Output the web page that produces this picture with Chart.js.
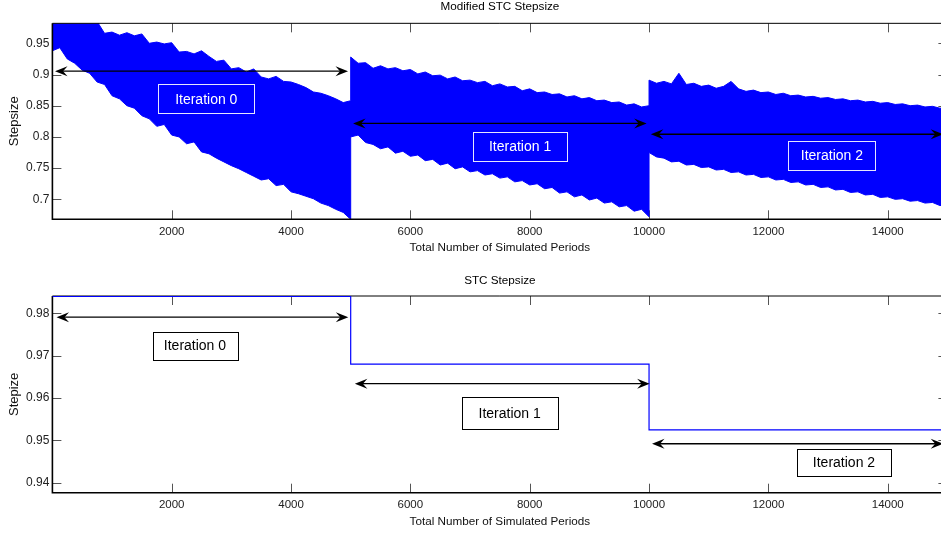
<!DOCTYPE html>
<html>
<head>
<meta charset="utf-8">
<title>STC Stepsize</title>
<script src="https://cdn.jsdelivr.net/npm/chart.js@4.4.0/dist/chart.umd.min.js"></script>
<style>
  html, body { margin: 0; padding: 0; background: #fff; overflow: hidden; width: 941px; height: 535px; }
  .panel { position: absolute; left: 0; }
  #topPanel { top: 0; }
  #bottomPanel { top: 265px; }
</style>
</head>
<body>
<div class="panel" id="topPanel"><canvas id="modifiedChart" width="980" height="265"></canvas></div>
<div class="panel" id="bottomPanel"><canvas id="stcChart" width="980" height="270"></canvas></div>
<script>
// Modified STC stepsize: the noisy band is read as its upper / lower edge,
// one sample every 125 periods, one array per iteration
const iterationStarts = [0, 5000, 10000];
const sampleStep = 125;

const upperIter0 = [
  0.985, 0.985, 0.985, 0.985, 0.985, 0.985, 0.985, 0.966, 0.968, 0.963, 0.967, 0.962, 0.965, 0.950, 0.952, 0.949, 0.951,
  0.936, 0.937, 0.933, 0.938, 0.929, 0.921, 0.923, 0.909, 0.911, 0.904, 0.909, 0.896, 0.893, 0.897, 0.889, 0.888,
  0.884, 0.879, 0.872, 0.870, 0.866, 0.861, 0.855, 0.858
];
const lowerIter0 = [
  0.938, 0.943, 0.925, 0.918, 0.907, 0.902, 0.888, 0.884, 0.866, 0.861, 0.850, 0.846, 0.834, 0.829, 0.817, 0.820, 0.803,
  0.800, 0.789, 0.792, 0.776, 0.773, 0.766, 0.760, 0.754, 0.749, 0.743, 0.737, 0.731, 0.733, 0.722, 0.724, 0.712,
  0.709, 0.705, 0.701, 0.694, 0.690, 0.684, 0.679, 0.668
];
const upperIter1 = [
  0.928, 0.918, 0.919, 0.910, 0.914, 0.909, 0.911, 0.906, 0.908, 0.901, 0.904, 0.898, 0.899, 0.893, 0.896, 0.890, 0.891,
  0.887, 0.889, 0.882, 0.885, 0.880, 0.881, 0.874, 0.877, 0.871, 0.872, 0.868, 0.869, 0.864, 0.866, 0.861, 0.863,
  0.858, 0.859, 0.855, 0.856, 0.851, 0.853, 0.848, 0.850
];
const lowerIter1 = [
  0.800, 0.803, 0.791, 0.788, 0.781, 0.784, 0.774, 0.777, 0.769, 0.771, 0.762, 0.764, 0.755, 0.758, 0.749, 0.752, 0.744,
  0.746, 0.739, 0.741, 0.734, 0.736, 0.728, 0.730, 0.723, 0.725, 0.717, 0.719, 0.710, 0.712, 0.704, 0.707, 0.699,
  0.702, 0.694, 0.696, 0.688, 0.690, 0.681, 0.684, 0.672
];
const upperIter2 = [
  0.891, 0.886, 0.889, 0.885, 0.902, 0.884, 0.886, 0.881, 0.883, 0.878, 0.881, 0.889, 0.877, 0.873, 0.875, 0.871, 0.872,
  0.868, 0.870, 0.866, 0.867, 0.864, 0.865, 0.862, 0.863, 0.860, 0.861, 0.858, 0.859, 0.856, 0.857, 0.854, 0.855,
  0.852, 0.853, 0.850, 0.851, 0.848, 0.849, 0.846, 0.847
];
const lowerIter2 = [
  0.775, 0.768, 0.766, 0.760, 0.761, 0.755, 0.756, 0.751, 0.752, 0.747, 0.748, 0.743, 0.744, 0.739, 0.740, 0.735, 0.736,
  0.731, 0.732, 0.727, 0.728, 0.723, 0.724, 0.719, 0.720, 0.715, 0.716, 0.711, 0.712, 0.707, 0.708, 0.703, 0.704,
  0.700, 0.701, 0.697, 0.698, 0.694, 0.695, 0.690, 0.691
];

// STC stepsize: one constant value per iteration
const stcPeriods = [1, 5000, 10000, 15000];
const stcStepsize = [0.984, 0.968, 0.9525, 0.9525];

// tick labels
const periodTicks = [2000, 4000, 6000, 8000, 10000, 12000, 14000];
const modifiedTicks = [0.7, 0.75, 0.8, 0.85, 0.9, 0.95];
const stcTicks = [0.94, 0.95, 0.96, 0.97, 0.98];

// annotations: [from, to, y] arrows and [x0, x1, yTop, yBottom, text] boxes, in data units
const modifiedArrows = [[45, 4955, 0.9054], [5040, 9960, 0.8216], [10030, 14930, 0.8043]];
const modifiedBoxes = [
  [1775, 3384, 0.8843, 0.8383, 'Iteration 0'],
  [7054, 8624, 0.8083, 0.7614, 'Iteration 1'],
  [12333, 13797, 0.7939, 0.7474, 'Iteration 2']
];
const stcArrows = [[70, 4960, 0.9791], [5070, 10010, 0.9634], [10050, 14930, 0.9492]];
const stcBoxes = [
  [1681, 3099, 0.97566, 0.96914, 'Iteration 0'],
  [6859, 8468, 0.96031, 0.95268, 'Iteration 1'],
  [12479, 14054, 0.94803, 0.94165, 'Iteration 2']
];

const FONT = '"Liberation Sans", Arial, sans-serif';

// join the three iterations into one edge, each sample placed on its period
function edge(parts) {
  const pts = [];
  parts.forEach((vals, k) => {
    vals.forEach((v, i) => pts.push({ x: iterationStarts[k] + i * sampleStep, y: v }));
  });
  return pts;
}

function arrowHead(ctx, x, y, dir) {
  ctx.beginPath();
  ctx.moveTo(x, y);
  ctx.lineTo(x - dir * 12.5, y - 5);
  ctx.lineTo(x - dir * 8, y);
  ctx.lineTo(x - dir * 12.5, y + 5);
  ctx.closePath();
  ctx.fill();
}

// inward ticks on all four sides, box frame, arrows and text boxes
function makeDecor(cfg) {
  function frame(chart) {
    const {ctx, chartArea: a} = chart;
    ctx.save();
    ctx.strokeStyle = '#000';
    ctx.lineWidth = 1;
    ctx.beginPath();
    ctx.moveTo(a.left, a.top); ctx.lineTo(a.right, a.top); ctx.lineTo(a.right, a.bottom);
    ctx.stroke();
    ctx.lineWidth = 1.6;
    ctx.beginPath();
    ctx.moveTo(a.left, a.top); ctx.lineTo(a.left, a.bottom); ctx.lineTo(a.right, a.bottom);
    ctx.stroke();
    ctx.restore();
  }
  return {
    id: 'decor',
    beforeDatasetsDraw(chart) {
      const {ctx, chartArea: a, scales: {x, y}} = chart;
      ctx.save();
      ctx.strokeStyle = '#555';
      ctx.lineWidth = 1;
      ctx.beginPath();
      x.ticks.forEach(t => {
        const px = Math.round(x.getPixelForValue(t.value)) + 0.5;
        ctx.moveTo(px, a.bottom); ctx.lineTo(px, a.bottom - 9);
        ctx.moveTo(px, a.top); ctx.lineTo(px, a.top + 9);
      });
      y.ticks.forEach(t => {
        const py = Math.round(y.getPixelForValue(t.value)) + 0.5;
        ctx.moveTo(a.left, py); ctx.lineTo(a.left + 9, py);
        ctx.moveTo(a.right, py); ctx.lineTo(a.right - 9, py);
      });
      ctx.stroke();
      ctx.restore();
      if (!cfg.frameOnTop) frame(chart);
    },
    afterDatasetsDraw(chart) {
      if (cfg.frameOnTop) frame(chart);
      const {ctx, scales: {x, y}} = chart;
      ctx.save();
      ctx.strokeStyle = '#000';
      ctx.fillStyle = '#000';
      ctx.lineWidth = cfg.arrowWidth;
      cfg.arrows.forEach(([x0, x1, v]) => {
        const p0 = x.getPixelForValue(x0), p1 = x.getPixelForValue(x1), py = y.getPixelForValue(v);
        ctx.beginPath();
        ctx.moveTo(p0 + 4, py); ctx.lineTo(p1 - 4, py);
        ctx.stroke();
        arrowHead(ctx, p0, py, -1);
        arrowHead(ctx, p1, py, 1);
      });
      ctx.font = '14px ' + FONT;
      ctx.textAlign = 'center';
      ctx.textBaseline = 'middle';
      cfg.boxes.forEach(([x0, x1, v0, v1, text]) => {
        const l = x.getPixelForValue(x0), r = x.getPixelForValue(x1);
        const t = y.getPixelForValue(v0), b = y.getPixelForValue(v1);
        if (cfg.boxFill) {
          ctx.fillStyle = cfg.boxFill;
          ctx.fillRect(l, t, r - l, b - t);
        }
        ctx.strokeStyle = cfg.boxLine;
        ctx.lineWidth = 1;
        ctx.strokeRect(Math.round(l) + 0.5, Math.round(t) + 0.5, Math.round(r - l), Math.round(b - t));
        ctx.fillStyle = cfg.textColor;
        ctx.fillText(text, (l + r) / 2, (t + b) / 2 + 1);
      });
      ctx.restore();
    }
  };
}

function makeOptions(o) {
  return {
    responsive: false,
    animation: false,
    events: [],
    layout: { padding: { left: 0, right: 32.6, top: 0, bottom: 0 } },
    plugins: {
      legend: { display: false },
      tooltip: { enabled: false },
      title: {
        display: true,
        text: o.title,
        fullSize: false,
        color: '#000',
        font: { family: FONT, size: 11.7, weight: 'normal' },
        padding: o.titlePadding
      }
    },
    scales: {
      x: {
        type: 'linear',
        min: 1,
        max: 15000,
        grid: { display: false, drawTicks: false },
        border: { display: false },
        afterBuildTicks: s => { s.ticks = periodTicks.map(v => ({ value: v })); },
        afterFit: s => { s.height = o.xHeight; },
        ticks: {
          color: '#222',
          padding: o.xTickPad,
          maxRotation: 0,
          font: { family: FONT, size: 11.5 },
          callback: v => String(v)
        },
        title: {
          display: true,
          text: 'Total Number of Simulated Periods',
          color: '#111',
          font: { family: FONT, size: 11.7 },
          padding: { top: 0, bottom: o.xTitlePad }
        }
      },
      y: {
        type: 'linear',
        min: o.yMin,
        max: o.yMax,
        grid: { display: false, drawTicks: false },
        border: { display: false },
        afterBuildTicks: s => { s.ticks = o.yTicks.map(v => ({ value: v })); },
        afterFit: s => { s.width = 52.4; },
        ticks: {
          color: '#222',
          padding: 3,
          font: { family: FONT, size: 12 },
          callback: v => String(v)
        },
        title: {
          display: true,
          text: o.yTitle,
          color: '#111',
          font: { family: FONT, size: 13 },
          padding: { top: 6.2, bottom: 0 }
        }
      }
    }
  };
}

new Chart(document.getElementById('modifiedChart'), {
  type: 'line',
  data: {
    datasets: [{
      data: edge([upperIter0, upperIter1, upperIter2]),
      borderColor: '#0000ff',
      borderWidth: 1,
      pointRadius: 0,
      fill: false
    }, {
      data: edge([lowerIter0, lowerIter1, lowerIter2]),
      borderColor: '#0000ff',
      backgroundColor: '#0000ff',
      borderWidth: 1,
      pointRadius: 0,
      fill: '-1'
    }]
  },
  options: makeOptions({
    title: 'Modified STC Stepsize',
    titlePadding: { top: 0, bottom: 9.3 },
    xHeight: 45.7,
    xTickPad: 6,
    xTitlePad: 9.8,
    yMin: 0.668,
    yMax: 0.982,
    yTicks: modifiedTicks,
    yTitle: 'Stepsize'
  }),
  plugins: [makeDecor({
    arrows: modifiedArrows, boxes: modifiedBoxes, frameOnTop: true,
    arrowWidth: 1.3, boxLine: '#e6e6ff', boxFill: null, textColor: '#fff'
  })]
});

new Chart(document.getElementById('stcChart'), {
  type: 'line',
  data: {
    datasets: [{
      data: stcPeriods.map((p, i) => ({ x: p, y: stcStepsize[i] })),
      borderColor: '#0000ff',
      borderWidth: 1.2,
      pointRadius: 0,
      stepped: 'before',
      fill: false
    }]
  },
  options: makeOptions({
    title: 'STC Stepsize',
    titlePadding: { top: 8.7, bottom: 8.26 },
    xHeight: 42.3,
    xTickPad: 5,
    xTitlePad: 6.4,
    yMin: 0.93764,
    yMax: 0.9841,
    yTicks: stcTicks,
    yTitle: 'Stepize'
  }),
  plugins: [makeDecor({
    arrows: stcArrows, boxes: stcBoxes, frameOnTop: false,
    arrowWidth: 1.3, boxLine: '#000', boxFill: '#fff', textColor: '#000'
  })]
});
</script>
</body>
</html>
